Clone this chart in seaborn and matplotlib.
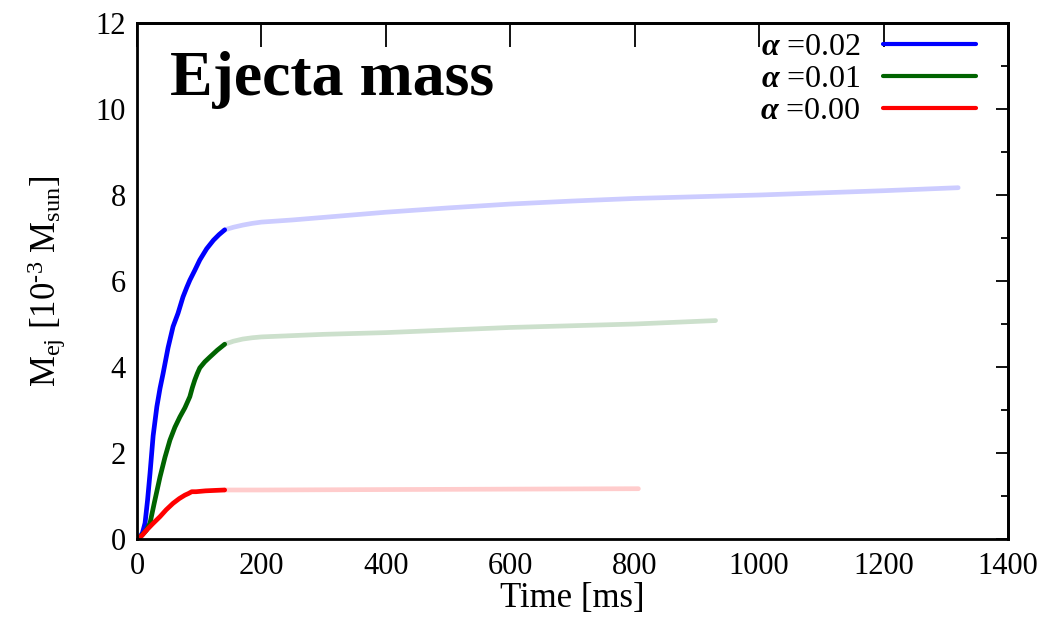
import matplotlib
matplotlib.use('Agg')
import matplotlib.pyplot as plt
import seaborn as sns
from matplotlib.ticker import MultipleLocator, NullFormatter

# Early (resolved) phase of each run, time in ms, mass in 1e-3 Msun
T_02 = [0, 5, 9, 13, 17, 21, 26, 32, 37, 42, 50, 58, 66, 74, 80, 85, 93,
        101, 112, 123, 132, 141]
M_02 = [0, 0.05, 0.15, 0.37, 0.9, 1.53, 2.4, 3.08, 3.5, 3.85, 4.45, 4.94,
        5.25, 5.63, 5.85, 6.02, 6.25, 6.49, 6.75, 6.95, 7.08, 7.19]
T_01 = [0, 6, 10, 15, 21, 28, 37, 45, 53, 61, 69, 77, 85, 89, 93, 97, 101,
        109, 117, 129, 141]
M_01 = [0, 0.06, 0.12, 0.2, 0.37, 0.85, 1.44, 1.9, 2.3, 2.6, 2.84, 3.05,
        3.31, 3.52, 3.7, 3.85, 3.98, 4.12, 4.23, 4.39, 4.53]
T_00 = [0, 8, 15, 25, 37, 47, 58, 68, 77, 83, 88, 95, 110, 125, 141]
M_00 = [0, 0.08, 0.2, 0.35, 0.52, 0.68, 0.83, 0.94, 1.02, 1.06, 1.1, 1.1,
        1.12, 1.13, 1.14]

# Late (extrapolated) phase
LT_02 = [141, 155, 170, 185, 200, 250, 300, 400, 500, 600, 700, 800, 1000,
         1200, 1320]
LM_02 = [7.19, 7.25, 7.3, 7.34, 7.37, 7.42, 7.48, 7.6, 7.7, 7.79, 7.86,
         7.92, 8.0, 8.1, 8.17]
LT_01 = [141, 155, 170, 185, 200, 250, 300, 400, 600, 800, 930]
LM_01 = [4.53, 4.6, 4.65, 4.68, 4.7, 4.73, 4.76, 4.8, 4.92, 5.0, 5.08]
LT_00 = [141, 200, 400, 600, 806]
LM_00 = [1.14, 1.14, 1.15, 1.16, 1.17]

LABELS = [r'$\mathbf{\alpha}$ =0.02', r'$\mathbf{\alpha}$ =0.01',
          r'$\mathbf{\alpha}$ =0.00']
COLORS = ['#0000ff', '#006400', '#ff0000']

sns.set_style('white')
plt.rcParams['font.family'] = ['Liberation Serif', 'DejaVu Serif']
plt.rcParams['mathtext.fontset'] = 'custom'
plt.rcParams['mathtext.rm'] = 'Liberation Serif'
plt.rcParams['mathtext.it'] = 'Liberation Serif:italic'
plt.rcParams['mathtext.bf'] = 'Liberation Serif:bold:italic'
plt.rcParams['text.color'] = 'black'
plt.rcParams['axes.labelcolor'] = 'black'
plt.rcParams['xtick.color'] = 'black'
plt.rcParams['ytick.color'] = 'black'


def main():
    fig = plt.figure(figsize=(10.56, 6.17), dpi=100)
    ax = fig.add_axes([0.1297, 0.1264, 0.8248, 0.8363])

    early = [(T_02, M_02), (T_01, M_01), (T_00, M_00)]
    late = [(LT_02, LM_02), (LT_01, LM_01), (LT_00, LM_00)]

    # Faded late segments first, then the solid early parts
    for (t, m), col in zip(late, COLORS):
        sns.lineplot(x=t, y=m, color=col, alpha=0.2, lw=3.4, ax=ax)
    for (t, m), col, lab in zip(early, COLORS, LABELS):
        sns.lineplot(x=t, y=m, color=col, lw=3.4, label=lab, ax=ax)

    ax.set_xlim(0, 1400)
    ax.set_ylim(0, 12)
    ax.xaxis.set_major_locator(MultipleLocator(200))
    ax.yaxis.set_major_locator(MultipleLocator(2))
    ax.yaxis.set_minor_locator(MultipleLocator(1))
    ax.tick_params(which='both', direction='in', labelsize=22, width=1.3)
    ax.tick_params(axis='x', length=17, colors='#c8c8c8', labelcolor='black',
                   pad=9)
    ax.tick_params(axis='y', which='both', length=8, pad=8)

    # Black ticks on top and right, like the original frame
    top = ax.secondary_xaxis('top')
    top.xaxis.set_major_locator(MultipleLocator(200))
    top.xaxis.set_major_formatter(NullFormatter())
    top.tick_params(direction='in', length=17, width=1.3)
    right = ax.secondary_yaxis('right')
    right.yaxis.set_major_locator(MultipleLocator(2))
    right.yaxis.set_minor_locator(MultipleLocator(1))
    right.yaxis.set_major_formatter(NullFormatter())
    right.tick_params(direction='in', length=9, width=1.3)
    right.tick_params(which='minor', direction='in', length=5, width=1.3)

    for a in (ax, top, right):
        for sp in a.spines.values():
            sp.set_color('black')
            sp.set_linewidth(2)

    ax.set_xlabel('Time [ms]', fontsize=25, labelpad=1)
    ax.set_ylabel(r'M$_{\rm ej}$ [10$^{\text{-3}}$ M$_{\rm sun}$]',
                  fontsize=25, labelpad=20)

    ax.text(0.038, 0.945, 'Ejecta mass', transform=ax.transAxes,
            fontsize=46, weight='bold', va='top', ha='left')

    leg = ax.legend(loc='upper right', bbox_to_anchor=(0.985, 1.018),
                    markerfirst=False, frameon=False, fontsize=23,
                    handlelength=2.9, labelspacing=0.08, handletextpad=0.7,
                    borderaxespad=0.2)
    for line in leg.get_lines():
        line.set_linewidth(3)

    fig.savefig('out.png', dpi=100)
    plt.close()


if __name__ == "__main__":
    main()
